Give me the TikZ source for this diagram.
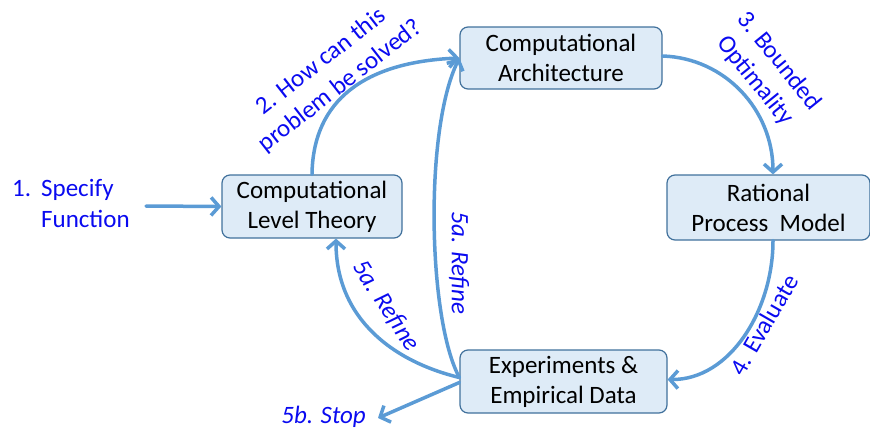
\documentclass[tikz,border=0pt]{standalone}
\usepackage{fontspec}
\setmainfont{Carlito}
\usetikzlibrary{arrows.meta}
\definecolor{flow}{RGB}{91,155,213}
\definecolor{boxfill}{RGB}{222,235,247}
\definecolor{boxedge}{RGB}{65,113,156}
\definecolor{labelblue}{RGB}{10,10,240}
\begin{document}
\begin{tikzpicture}[x=1pt,y=1pt,
  stage/.style={draw=boxedge, line width=1.2pt, fill=boxfill, rounded corners=8pt,
    align=center, inner sep=0pt, font=\fontsize{25}{30}\selectfont},
  flowarrow/.style={draw=flow, line width=3.5pt, line cap=round,
    -{Straight Barb[length=8pt,width=18pt]}},
  note/.style={text=labelblue, align=center, inner sep=0pt,
    font=\fontsize{25}{31}\selectfont},
  inote/.style={note, font=\fontsize{25}{31}\selectfont\itshape}]
\useasboundingbox (0,0) rectangle (870,-434);

% stages of the cycle
\node[stage, minimum width=202pt, minimum height=62pt] (arch) at (561,-58)
  {Computational\\Architecture};
\node[stage, minimum width=180pt, minimum height=63pt] (clt) at (312,-206.5)
  {Computational\\Level Theory};
\node[stage, minimum width=203pt, minimum height=65pt] (rpm) at (768.5,-207.5)
  {Rational\\Process\ \ Model};
\node[stage, minimum width=207pt, minimum height=63pt] (exp) at (563.5,-381.5)
  {Experiments \&\\Empirical Data};

% entry label
\node[note, anchor=west, align=left] (spec) at (12,-206)
  {\begin{tabular}{@{}l@{\hspace{10pt}}l@{}}1. & Specify\\ & Function\end{tabular}};

% connector end points
\coordinate (archin) at (arch.west);
\coordinate (archout) at ([yshift=2pt]arch.east);
\coordinate (rpmin) at ([xshift=4.5pt]rpm.north);
\coordinate (rpmout) at ([xshift=4.5pt]rpm.south);
\coordinate (expin) at ([yshift=2pt]exp.east);
\coordinate (expout) at ([yshift=4pt]exp.west);
\coordinate (expstop) at ([yshift=-1pt]exp.west);
\coordinate (cltin) at ([xshift=24pt]clt.south);
\coordinate (specout) at (146,-206);
\coordinate (stop) at (378,-418);

% connectors
\draw[flowarrow] (specout) -- (clt.west);
\draw[flowarrow] (clt.north) .. controls (313,-100) and (365,-62) .. (archin);
\draw[flowarrow] (archout) .. controls (725,-58) and (773,-110) .. (rpmin);
\draw[flowarrow] (rpmout) .. controls (773,-310) and (730,-380) .. (expin);
\draw[flowarrow] (expout) .. controls (428,-320) and (424,-130) .. (archin);
\draw[flowarrow] (expout) .. controls (395,-362) and (336,-320) .. (cltin);
\draw[flowarrow] (expstop) -- (stop);

% step labels
\node[note, rotate=38] (howlbl) at (331,-74) {2. How can this\\problem be solved?};
\node[note, rotate=-51] (boundlbl) at (767,-71) {3. Bounded\\Optimality};
\node[note, rotate=60] (evallbl) at (764,-325) {4. Evaluate};
\node[inote, rotate=-90] (refineup) at (459,-263) {5a. Refine};
\node[inote, rotate=-57] (refineleft) at (386,-306) {5a. Refine};
\node[inote, anchor=east] (stoplbl) at (366,-417) {5b. Stop};
\end{tikzpicture}
\end{document}
